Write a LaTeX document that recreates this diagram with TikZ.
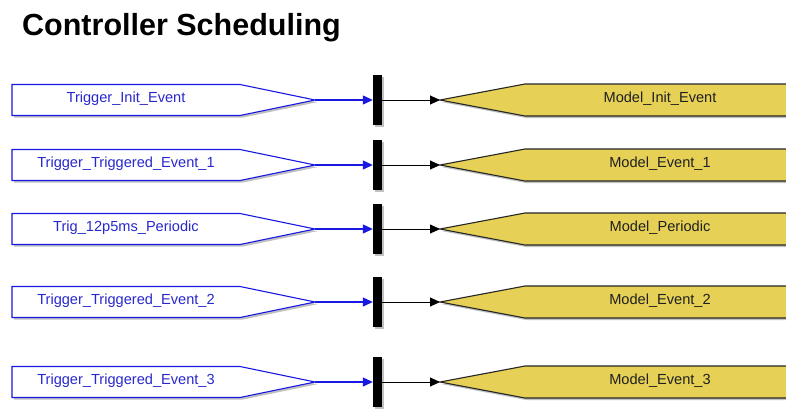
\documentclass[tikz,border=0pt]{standalone}
\usepackage{fontspec}
\setmainfont{Liberation Sans}
\usetikzlibrary{arrows.meta,shadows}

\definecolor{trigblue}{RGB}{24,24,225}
\definecolor{trigtextblue}{RGB}{40,40,205}
\definecolor{modyellow}{RGB}{230,208,86}
\definecolor{modtextgray}{RGB}{32,32,32}

\tikzset{
  soft shadow/.style={drop shadow={shadow xshift=2.2pt,shadow yshift=-2.2pt,opacity=0.35,fill=black!70}},
  trigshape/.style={draw=trigblue,line width=1.1pt,fill=white,line join=miter,soft shadow},
  modshape/.style={draw=black!85,line width=1.1pt,fill=modyellow,line join=miter,soft shadow},
  trigtext/.style={text=trigtextblue,font=\fontsize{14.6}{16}\selectfont,anchor=base,inner sep=0pt},
  modtext/.style={text=modtextgray,font=\fontsize{14.6}{16}\selectfont,anchor=base,inner sep=0pt},
  barnode/.style={rectangle,fill=black,draw=none,minimum width=9pt,minimum height=50pt,inner sep=0pt,soft shadow},
  blueconn/.style={draw=trigblue,line width=1.2pt,-{Triangle[length=10pt,width=9pt]}},
  blackconn/.style={draw=black,line width=0.9pt,-{Triangle[length=10pt,width=9pt]}},
  titletext/.style={font=\fontsize{30.5}{34}\selectfont\bfseries,anchor=base west,inner sep=0pt}
}

\begin{document}
\begin{tikzpicture}[x=1pt,y=-1pt]
  \useasboundingbox (0,0) rectangle (786,408);
  \clip (0,0) rectangle (786,408);
  \fill[white] (0,0) rectangle (786,408);

  \node[titletext] (title) at (22,35) {Controller Scheduling};

  \foreach \n/\y/\lt/\rt in {
      1/100/Trigger\_Init\_Event/Model\_Init\_Event,
      2/165/Trigger\_Triggered\_Event\_1/Model\_Event\_1,
      3/229/Trig\_12p5ms\_Periodic/Model\_Periodic,
      4/302/Trigger\_Triggered\_Event\_2/Model\_Event\_2,
      5/382/Trigger\_Triggered\_Event\_3/Model\_Event\_3}{
    % trigger port (flat left, pointed right)
    \coordinate (tip\n) at (315,\y);
    \draw[trigshape] (12,\y-15.5) -- (240,\y-15.5) -- (tip\n) -- (240,\y+15.5) -- (12,\y+15.5) -- cycle;
    \node[trigtext] (trig\n) at (126,\y+2.6) {\lt};
    % mux bar
    \node[barnode] (bar\n) at (377.5,\y) {};
    % model port (pointed left)
    \coordinate (mtip\n) at (440,\y);
    \draw[modshape] (mtip\n) -- (525,\y-16) -- (810,\y-16) -- (810,\y+16) -- (525,\y+16) -- cycle;
    \node[modtext] (mod\n) at (660,\y+2.6) {\rt};
    % connectors
    \draw[blueconn] (tip\n) -- (bar\n.west);
    \draw[blackconn] (bar\n.east) -- (mtip\n);
  }
\end{tikzpicture}
\end{document}
